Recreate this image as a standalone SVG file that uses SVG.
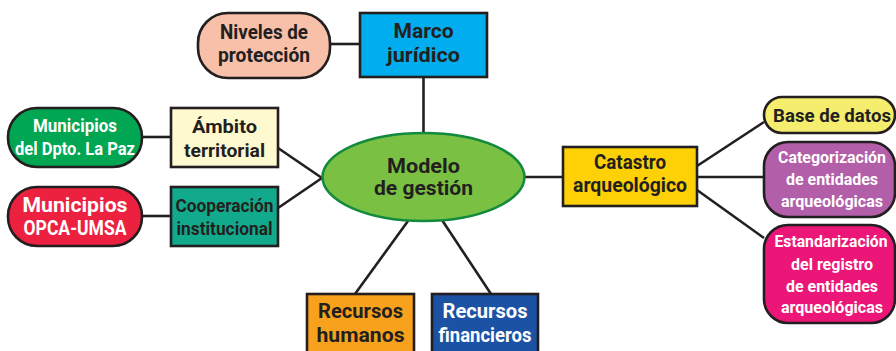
<svg xmlns="http://www.w3.org/2000/svg" width="896" height="351" viewBox="0 0 896 351">
<style>
.b{stroke:#231f20;stroke-width:2.6}
.c{stroke:#231f20;stroke-width:2.6;fill:none;stroke-linecap:butt}
text{font-family:Roboto,"Liberation Sans",sans-serif;font-weight:700;text-anchor:middle;fill:#231f20}
.w{fill:#ffffff}
</style>
<rect width="896" height="351" fill="#ffffff"/>
<g id="connectors">
<line class="c" x1="330" y1="44" x2="360" y2="44"/>
<line class="c" x1="423.5" y1="77" x2="423.5" y2="133"/>
<line class="c" x1="142" y1="137" x2="171" y2="137"/>
<line class="c" x1="142" y1="216" x2="171" y2="216"/>
<line class="c" x1="278" y1="148" x2="322" y2="178"/>
<line class="c" x1="278" y1="208" x2="322" y2="178"/>
<line class="c" x1="408" y1="221" x2="355" y2="294"/>
<line class="c" x1="442" y1="220" x2="491" y2="294"/>
<line class="c" x1="525" y1="177" x2="563" y2="177"/>
<line class="c" x1="697" y1="166" x2="764" y2="122"/>
<line class="c" x1="697" y1="177" x2="764" y2="177"/>
<line class="c" x1="697" y1="190" x2="764" y2="238"/>
</g>
<g id="niveles">
<rect class="b" x="198" y="13" width="132" height="65" rx="30" fill="#f8bfa9"/>
<text x="264" y="39" font-size="20" textLength="88" lengthAdjust="spacingAndGlyphs">Niveles de</text>
<text x="264" y="62" font-size="20" textLength="92" lengthAdjust="spacingAndGlyphs">protección</text>
</g>
<g id="marco">
<rect class="b" x="360" y="13" width="127" height="64" fill="#00aeef"/>
<text x="423.5" y="38" font-size="20" textLength="60" lengthAdjust="spacingAndGlyphs">Marco</text>
<text x="423.5" y="62" font-size="20" textLength="73" lengthAdjust="spacingAndGlyphs">jurídico</text>
</g>
<g id="modelo">
<ellipse cx="423.5" cy="177" rx="101" ry="44" fill="#7ac143" stroke="#138a3e" stroke-width="2.6"/>
<text x="423.5" y="173" font-size="21" textLength="73" lengthAdjust="spacingAndGlyphs">Modelo</text>
<text x="423.5" y="195" font-size="21" textLength="99" lengthAdjust="spacingAndGlyphs">de gestión</text>
</g>
<g id="ambito">
<rect class="b" x="171" y="108" width="107" height="59" fill="#fff9cf"/>
<text x="224.5" y="133" font-size="19" textLength="65" lengthAdjust="spacingAndGlyphs">Ámbito</text>
<text x="224.5" y="157" font-size="19" textLength="81" lengthAdjust="spacingAndGlyphs">territorial</text>
</g>
<g id="municipios-lapaz">
<rect class="b" x="8" y="108" width="134" height="59" rx="29" fill="#00a651"/>
<text class="w" x="75" y="132" font-size="18" textLength="84" lengthAdjust="spacingAndGlyphs">Municipios</text>
<text class="w" x="75" y="155" font-size="18" textLength="120" lengthAdjust="spacingAndGlyphs">del Dpto. La Paz</text>
</g>
<g id="cooperacion">
<rect class="b" x="171" y="187" width="107" height="59" fill="#12aa8c"/>
<text x="224.5" y="212" font-size="19" textLength="98" lengthAdjust="spacingAndGlyphs">Cooperación</text>
<text x="224.5" y="235" font-size="19" textLength="96" lengthAdjust="spacingAndGlyphs">institucional</text>
</g>
<g id="municipios-opca">
<rect class="b" x="8" y="187" width="134" height="59" rx="29" fill="#ec2140"/>
<text class="w" x="75" y="212" font-size="21" textLength="105" lengthAdjust="spacingAndGlyphs">Municipios</text>
<text class="w" x="75" y="235" font-size="21" textLength="103" lengthAdjust="spacingAndGlyphs">OPCA-UMSA</text>
</g>
<g id="recursos-humanos">
<rect class="b" x="307" y="294" width="107" height="62" fill="#f8a11c"/>
<text x="360.5" y="318" font-size="20" textLength="85" lengthAdjust="spacingAndGlyphs">Recursos</text>
<text x="360.5" y="342" font-size="20" textLength="88" lengthAdjust="spacingAndGlyphs">humanos</text>
</g>
<g id="recursos-financieros">
<rect class="b" x="432" y="294" width="106" height="62" fill="#1b52a4"/>
<text class="w" x="485" y="318" font-size="20" textLength="85" lengthAdjust="spacingAndGlyphs">Recursos</text>
<text class="w" x="485" y="342" font-size="20" textLength="93" lengthAdjust="spacingAndGlyphs">financieros</text>
</g>
<g id="catastro">
<rect class="b" x="563" y="147" width="134" height="59" fill="#fdd106"/>
<text x="630" y="169" font-size="20" textLength="72" lengthAdjust="spacingAndGlyphs">Catastro</text>
<text x="630" y="192" font-size="20" textLength="114" lengthAdjust="spacingAndGlyphs">arqueológico</text>
</g>
<g id="base-datos">
<rect class="b" x="764" y="97" width="131" height="36" rx="18" fill="#f4ed6e"/>
<text x="832" y="122" font-size="19" textLength="118" lengthAdjust="spacingAndGlyphs">Base de datos</text>
</g>
<g id="categorizacion">
<rect class="b" x="764" y="142" width="131" height="75" rx="24" fill="#b25ea8"/>
<text class="w" x="832" y="163" font-size="17" textLength="108" lengthAdjust="spacingAndGlyphs">Categorización</text>
<text class="w" x="832" y="185" font-size="17" textLength="92" lengthAdjust="spacingAndGlyphs">de entidades</text>
<text class="w" x="832" y="207" font-size="17" textLength="102" lengthAdjust="spacingAndGlyphs">arqueológicas</text>
</g>
<g id="estandarizacion">
<rect class="b" x="764" y="225" width="131" height="98" rx="24" fill="#ec1679"/>
<text class="w" x="831" y="247" font-size="16.5" textLength="113" lengthAdjust="spacingAndGlyphs">Estandarización</text>
<text class="w" x="832" y="270" font-size="17" textLength="82" lengthAdjust="spacingAndGlyphs">del registro</text>
<text class="w" x="832" y="292" font-size="17" textLength="92" lengthAdjust="spacingAndGlyphs">de entidades</text>
<text class="w" x="832" y="313" font-size="17" textLength="102" lengthAdjust="spacingAndGlyphs">arqueológicas</text>
</g>
</svg>
